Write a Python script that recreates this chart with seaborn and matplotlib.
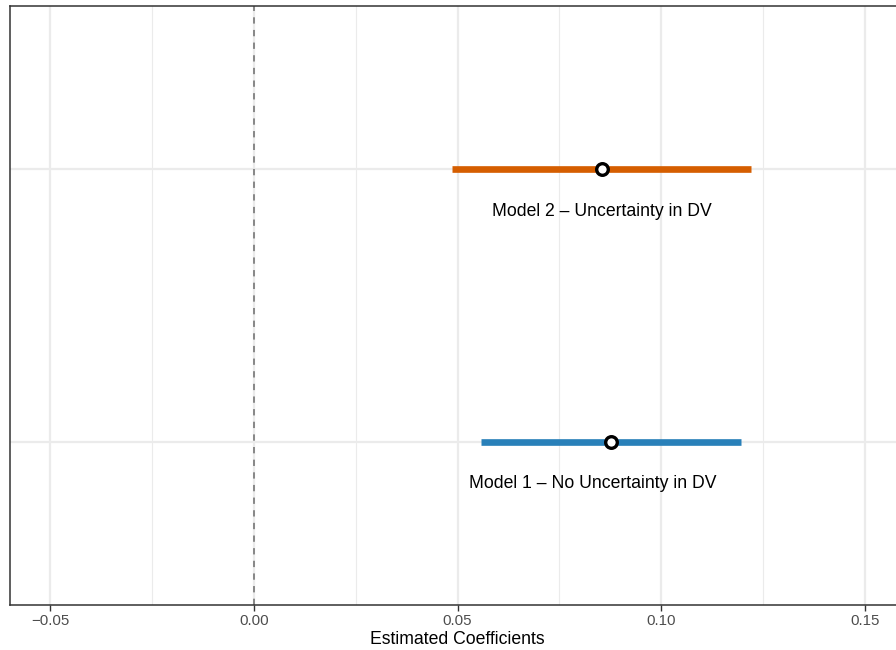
import numpy as np
import pandas as pd
import matplotlib
matplotlib.use("Agg")
import matplotlib.pyplot as plt
import seaborn as sns

# Coefficient estimates with interval bounds
models = ["Model 1 \u2013 No Uncertainty in DV", "Model 2 \u2013 Uncertainty in DV"]
estimates = [0.0877, 0.0854]
lower = [0.0557, 0.0486]
upper = [0.1195, 0.1221]
label_x = [0.0832, 0.0854]
colors = ["#2980B9", "#D55E00"]

df = pd.DataFrame({"model": models, "est": estimates, "lo": lower, "hi": upper,
                   "lx": label_x, "pos": [1, 2]})

sns.set_theme(style="white")
plt.rcParams["font.family"] = ["Liberation Sans", "DejaVu Sans"]

W, H = 896, 650
fig = plt.figure(figsize=(W / 100, H / 100), dpi=100)
left_px, right_px, top_px, bottom_px = 9.5, 905.5, 6, 605
ax = fig.add_axes([left_px / W, 1 - bottom_px / H,
                   (right_px - left_px) / W, (bottom_px - top_px) / H])

xmin, xmax = -0.06, 0.16
ax.set_xlim(xmin, xmax)
ax.set_ylim(0.4, 2.6)

# grid: major and minor vertical lines, horizontal lines at each model
major = [-0.05, 0.0, 0.05, 0.10, 0.15]
minor = [-0.025, 0.025, 0.075, 0.125]
for v in major:
    ax.axvline(v, color="#EBEBEB", lw=1.6, zorder=0)
for v in minor:
    ax.axvline(v, color="#EBEBEB", lw=0.8, zorder=0)
for p in df["pos"]:
    ax.axhline(p, color="#EBEBEB", lw=1.6, zorder=0)

ax.axvline(0, color="#7F7F7F", lw=1.3, ls=(0, (3.5, 3.5)), zorder=1)

ax.hlines(df["pos"], df["lo"], df["hi"], colors=colors, lw=4.8, zorder=2)
sns.scatterplot(data=df, x="est", y="pos", ax=ax, s=70, color="white",
                edgecolor="black", linewidth=2.4, zorder=3, legend=False)

for _, r in df.iterrows():
    ax.text(r["lx"], r["pos"] - 0.155, r["model"], ha="center", va="center",
            fontsize=12.7, color="black")

ax.set_xticks(major)
ax.set_xticklabels(["\u22120.05", "0.00", "0.05", "0.10", "0.15"])
ax.tick_params(axis="x", length=4, width=1, color="#333333", labelcolor="#4D4D4D",
               labelsize=10.8, pad=2.5, bottom=True)
ax.set_yticks([])
ax.set_xlabel("Estimated Coefficients", fontsize=12.7, color="black", labelpad=2)
ax.set_ylabel("")

for s in ax.spines.values():
    s.set_color("#333333")
    s.set_linewidth(1.1)

fig.savefig("out.png", dpi=100)
